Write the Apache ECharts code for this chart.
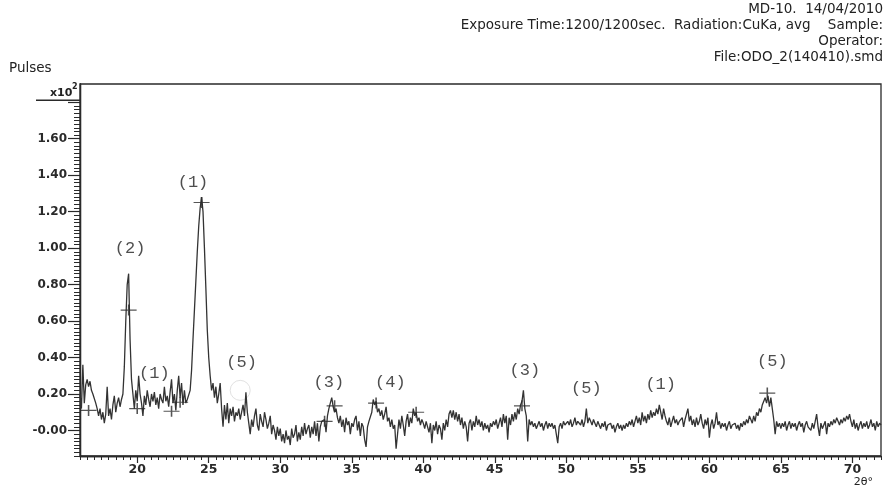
<!DOCTYPE html>
<html>
<head>
<meta charset="utf-8">
<script src="https://cdn.jsdelivr.net/npm/echarts@6/dist/echarts.min.js"></script>
<style>
html,body{margin:0;padding:0;background:#fff;}
#chart{width:893px;height:489px;}
</style>
</head>
<body>
<div id="chart"></div>
<script>
// Scan: 2-theta from 16 to 72 deg, step 0.1 deg; intensities in x10^2 pulses
const scanStart = 16;
const scanStep = 0.1;
const pulses = [
  0.20, 0.12, 0.36, 0.15, 0.25, 0.28, 0.24, 0.27, 0.22, 0.20,
  0.20, 0.15, 0.12, 0.08, 0.12, 0.06, 0.10, 0.04, 0.09, 0.24,
  0.08, 0.12, 0.06, 0.14, 0.19, 0.10, 0.15, 0.18, 0.13, 0.17,
  0.20, 0.35, 0.60, 0.80, 0.86, 0.50, 0.28, 0.20, 0.12, 0.22,
  0.16, 0.30, 0.20, 0.15, 0.08, 0.19, 0.14, 0.22, 0.17, 0.13,
  0.20, 0.16, 0.21, 0.14, 0.18, 0.12, 0.20, 0.17, 0.15, 0.24,
  0.16, 0.19, 0.13, 0.21, 0.28, 0.15, 0.20, 0.11, 0.22, 0.30,
  0.18, 0.26, 0.14, 0.22, 0.15, 0.17, 0.17, 0.22, 0.33, 0.50,
  0.66, 0.82, 0.98, 1.12, 1.22, 1.28, 1.20, 1.00, 0.78, 0.55,
  0.40, 0.30, 0.22, 0.26, 0.18, 0.24, 0.15, 0.20, 0.26, 0.12,
  0.02, 0.14, 0.06, 0.15, 0.04, 0.12, 0.08, 0.13, 0.05, 0.10,
  0.08, 0.12, 0.06, 0.10, 0.14, 0.08, 0.21, 0.10, 0.04, -0.02,
  0.06, 0.02, 0.08, 0.12, 0.03, 0.00, 0.09, 0.05, 0.02, 0.10,
  0.06, 0.01, 0.04, 0.08, -0.02, 0.03, 0.00, -0.05, 0.02, -0.03,
  0.01, -0.06, -0.02, -0.07, 0.00, -0.05, -0.03, -0.08, 0.01, -0.04,
  -0.02, 0.03, -0.06, -0.01, -0.05, 0.02, -0.03, 0.04, -0.02, 0.01,
  0.03, -0.04, 0.02, -0.02, 0.05, -0.03, 0.04, -0.06, 0.02, 0.05,
  0.05, 0.06, -0.01, 0.08, 0.12, 0.15, 0.18, 0.13, 0.10, 0.12,
  0.07, 0.04, 0.08, 0.02, 0.06, -0.01, 0.07, 0.03, 0.05, -0.02,
  0.04, 0.02, 0.06, 0.08, 0.00, 0.05, -0.03, 0.04, 0.02, -0.05,
  -0.09, 0.02, 0.05, 0.04, 0.10, 0.17, 0.14, 0.16, 0.10, 0.12,
  0.08, 0.11, 0.06, 0.09, 0.13, 0.05, 0.07, 0.02, 0.06, 0.01,
  0.03, -0.10, -0.02, 0.06, 0.01, 0.08, 0.03, -0.03, 0.05, 0.09,
  0.02, 0.07, 0.04, 0.12, 0.08, 0.10, 0.05, 0.07, 0.03, 0.06,
  0.04, 0.01, 0.05, 0.02, -0.01, 0.04, -0.07, 0.03, 0.00, 0.05,
  -0.02, 0.03, 0.01, -0.05, 0.04, 0.00, 0.06, 0.02, 0.09, 0.11,
  0.07, 0.11, 0.06, 0.10, 0.05, 0.09, 0.03, 0.07, 0.01, 0.05,
  0.02, -0.06, 0.04, 0.06, 0.00, 0.05, 0.02, 0.08, 0.03, 0.06,
  0.02, 0.05, 0.00, 0.04, 0.01, 0.03, -0.01, 0.04, 0.02, 0.05,
  0.03, 0.06, 0.01, 0.04, 0.07, 0.02, 0.09, 0.04, 0.08, -0.05,
  0.07, 0.03, 0.09, 0.05, 0.10, 0.06, 0.12, 0.09, 0.14, 0.16,
  0.22, 0.12, 0.08, -0.06, 0.06, 0.03, 0.05, 0.02, 0.04, 0.01,
  0.03, 0.05, 0.02, 0.04, 0.00, 0.03, 0.05, 0.01, 0.04, 0.02,
  0.04, 0.01, 0.03, -0.02, -0.07, 0.02, 0.04, 0.01, 0.05, 0.03,
  0.02, 0.05, 0.03, 0.06, 0.02, 0.04, 0.07, 0.03, 0.05, 0.04,
  0.03, 0.06, 0.02, 0.05, 0.12, 0.04, 0.07, 0.05, 0.03, 0.06,
  0.04, 0.02, 0.05, 0.03, 0.01, 0.04, 0.02, 0.05, 0.00, 0.03,
  0.02, 0.04, 0.01, 0.03, -0.01, 0.02, 0.04, 0.01, 0.03, 0.00,
  0.03, 0.01, 0.04, 0.02, 0.05, 0.03, 0.06, 0.02, 0.05, 0.08,
  0.04, 0.07, 0.03, 0.10, 0.05, 0.08, 0.04, 0.09, 0.06, 0.11,
  0.07, 0.10, 0.08, 0.12, 0.09, 0.14, 0.10, 0.06, 0.12, 0.08,
  0.05, 0.03, 0.07, 0.02, 0.05, 0.08, 0.04, 0.06, 0.03, 0.05,
  0.04, 0.07, 0.02, 0.06, 0.09, 0.12, 0.05, 0.08, 0.03, 0.06,
  0.02, 0.07, 0.03, 0.05, 0.09, 0.04, 0.01, 0.06, 0.03, 0.07,
  -0.04, 0.03, 0.06, 0.01, 0.04, 0.10, 0.03, 0.05, 0.01, 0.04,
  0.02, 0.04, 0.00, 0.03, 0.05, 0.01, 0.03, 0.02, 0.04, 0.01,
  0.03, 0.00, 0.04, 0.02, 0.05, 0.03, 0.06, 0.04, 0.08, 0.06,
  0.04, 0.08, 0.05, 0.10, 0.08, 0.12, 0.10, 0.14, 0.13, 0.18,
  0.15, 0.19, 0.13, 0.18, 0.12, 0.06, -0.02, 0.05, 0.02, 0.04,
  0.01, 0.04, 0.02, 0.05, 0.00, 0.03, 0.05, 0.01, 0.04, 0.02,
  0.04, 0.00, 0.03, 0.05, 0.02, 0.04, -0.01, 0.03, 0.05, 0.02,
  0.03, 0.00, 0.04, 0.01, 0.05, 0.09, 0.02, -0.03, 0.04, 0.01,
  0.03, 0.05, -0.02, 0.04, 0.02, 0.05, 0.03, 0.06, 0.04, 0.07,
  0.05, 0.03, 0.06, 0.04, 0.07, 0.05, 0.08, 0.06, 0.09, 0.05,
  0.02, 0.06, 0.01, 0.04, 0.00, 0.03, 0.05, 0.01, 0.04, 0.02,
  0.05, 0.01, 0.03, 0.06, 0.02, 0.04, 0.00, 0.05, 0.02, 0.04,
  0.03
];

// peak markers "+" : [2theta, value]
const crossAngles = [16.6, 19.4, 20.0, 22.4, 23.0, 24.5, 33.1, 33.8, 36.7, 39.5, 46.9, 64.05];
const crossValues = [0.11, 0.66, 0.12, 0.105, 0.155, 1.25, 0.05, 0.135, 0.15, 0.10, 0.135, 0.205];

// phase annotations
const phaseTexts  = ['(2)', '(1)', '(1)', '(5)', '(3)', '(4)', '(3)', '(5)', '(1)', '(5)'];
const phaseAngles = [19.5, 23.9, 21.2, 27.3, 33.4, 37.7, 47.1, 51.4, 56.6, 64.4];
const phaseValues = [1.00, 1.36, 0.315, 0.375, 0.265, 0.265, 0.33, 0.23, 0.25, 0.38];

// faint circle mark
const circleAngles = [27.2];
const circleValues = [0.22];

const xTickLabels = [20, 25, 30, 35, 40, 45, 50, 55, 60, 65, 70];
const yTickLabels = [0.00, 0.20, 0.40, 0.60, 0.80, 1.00, 1.20, 1.40, 1.60, 1.80];
const yScaleBase = 'x10';
const yScaleExp = '2';

const headerLines = [
  'MD-10.  14/04/2010',
  'Exposure Time:1200/1200sec.  Radiation:CuKa, avg    Sample:',
  'Operator:',
  'File:ODO_2(140410).smd'
];

// minor tick positions on the y axis: every 0.02 from -0.14 up to 1.80
const yMinorTicks = [];
for (let k = -7; k <= 90; k++) yMinorTicks.push(Math.round(k * 2) / 100);

const lineData = pulses.map((v, i) => [Math.round((scanStart + i * scanStep) * 100) / 100, v]);
const crossData = crossAngles.map((a, i) => [a, crossValues[i]]);
const phaseData = phaseAngles.map((a, i) => ({ value: [a, phaseValues[i]], name: phaseTexts[i] }));
const circleData = circleAngles.map((a, i) => [a, circleValues[i]]);

const chart = echarts.init(document.getElementById('chart'), null, { renderer: 'canvas' });
const ink = '#2a2a2a';
const sans = '"DejaVu Sans", "Liberation Sans", sans-serif';

function buildGraphics(yTop) {
  const g = headerLines.map((t, i) => ({
    type: 'text', right: 10, top: 2 + i * 16,
    style: { text: t, font: '13.5px ' + sans, fill: '#222' }
  }));
  g.push({ type: 'text', left: 9, top: 61, style: { text: 'Pulses', font: '13.5px ' + sans, fill: '#222' } });
  g.push({ type: 'text', right: 20, top: 477, style: { text: '2θ°', font: '11px ' + sans, fill: '#222' } });
  if (yTop != null) {
    g.push({ type: 'line', shape: { x1: 36, y1: yTop - 2, x2: 80, y2: yTop - 2 }, style: { stroke: ink, lineWidth: 1.3 } });
    g.push({ type: 'text', left: 50, top: yTop - 15, style: { text: yScaleBase, font: 'bold 11px ' + sans, fill: '#222' } });
    g.push({ type: 'text', left: 72, top: yTop - 19, style: { text: yScaleExp, font: 'bold 8px ' + sans, fill: '#222' } });
  }
  return g;
}

const axisLineStyle = { show: true, onZero: false, lineStyle: { color: ink, width: 1.3 } };

const option = {
  animation: false,
  backgroundColor: '#fff',
  grid: { left: 80, top: 84, right: 12, bottom: 33, show: true, borderColor: ink, borderWidth: 1.3, backgroundColor: 'transparent', containLabel: false, outerBoundsMode: 'none' },
  xAxis: [
    {
      type: 'value', min: 16, max: 72, position: 'bottom',
      axisLine: axisLineStyle,
      axisTick: { show: true, length: 7, customValues: xTickLabels, lineStyle: { color: ink, width: 1.2 } },
      splitLine: { show: false },
      axisLabel: {
        customValues: xTickLabels, margin: 7, color: '#2a2a2a', fontSize: 12.5, fontWeight: 'bold', fontFamily: sans,
        formatter: v => String(Math.round(v))
      }
    },
    {
      type: 'value', min: 16, max: 72, interval: 0.5, position: 'bottom', offset: 0,
      axisLine: axisLineStyle,
      axisTick: { show: true, length: 4, lineStyle: { color: ink, width: 1 } },
      splitLine: { show: false },
      axisLabel: { show: false }
    }
  ],
  yAxis: [
    {
      type: 'value', min: -0.14, max: 1.9, position: 'left',
      axisLine: axisLineStyle,
      axisTick: { show: true, length: 12, customValues: yTickLabels, lineStyle: { color: ink, width: 1.2 } },
      splitLine: { show: false },
      axisLabel: {
        customValues: yTickLabels, margin: 13, color: '#2a2a2a', fontSize: 12, fontWeight: 'bold', fontFamily: sans,
        formatter: v => {
          const k = Math.round(v * 100);
          if (k === 180) return '';
          return k === 0 ? '-0.00' : v.toFixed(2);
        }
      }
    },
    {
      type: 'value', min: -0.14, max: 1.9, position: 'left', offset: 0,
      axisLine: axisLineStyle,
      axisTick: { show: true, length: 6, customValues: yMinorTicks, lineStyle: { color: ink, width: 1 } },
      splitLine: { show: false },
      axisLabel: { show: false }
    }
  ],
  series: [
    {
      type: 'line', data: lineData, showSymbol: false, symbol: 'none',
      lineStyle: { color: '#333', width: 1.3 }, z: 3
    },
    {
      type: 'scatter', data: crossData,
      symbol: 'path://M0,6L18,6M9,0L9,12', symbolSize: [16, 11],
      itemStyle: { color: 'transparent', borderColor: ink, borderWidth: 1.3 }, z: 4
    },
    {
      type: 'scatter', data: circleData, symbol: 'circle', symbolSize: 20,
      itemStyle: { color: 'transparent', borderColor: '#d9d9d9', borderWidth: 1 }, z: 2
    },
    {
      type: 'scatter', data: phaseData, symbolSize: 1,
      itemStyle: { color: 'transparent' },
      label: {
        show: true, position: 'inside', formatter: p => p.name,
        fontFamily: '"Liberation Mono", "DejaVu Sans Mono", monospace', fontSize: 17, color: '#222'
      }, z: 5
    }
  ],
  graphic: buildGraphics(null)
};

chart.setOption(option);
const y18 = chart.convertToPixel({ yAxisIndex: 0 }, 1.8);
chart.setOption({ graphic: buildGraphics(y18) }, { replaceMerge: ['graphic'] });
</script>
</body>
</html>
